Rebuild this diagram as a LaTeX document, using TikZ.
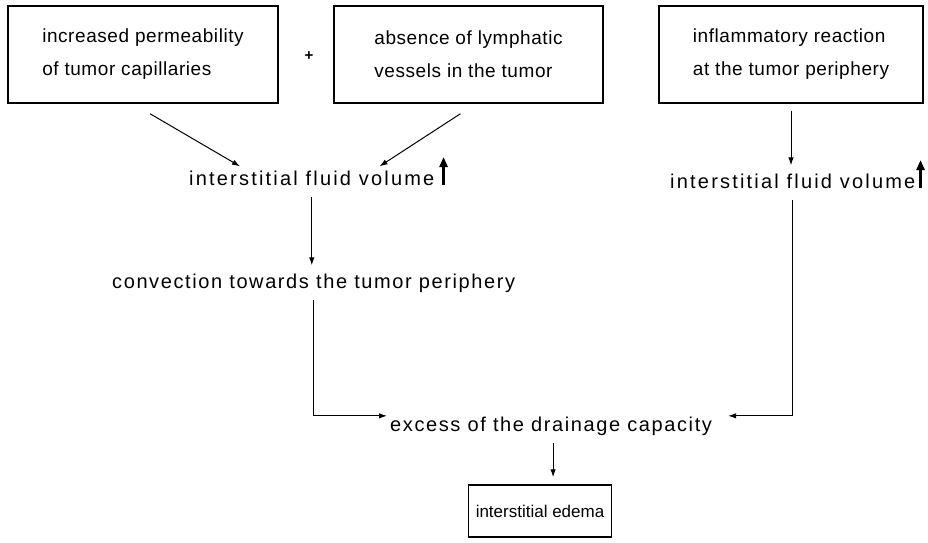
\documentclass[tikz,border=0pt]{standalone}
\usepackage{fontspec}
\setmainfont{Liberation Sans}
\newfontfamily\boxfont{Liberation Sans}[LetterSpace=3]
\newfontfamily\labfont{Liberation Sans}[LetterSpace=8]
\newfontfamily\volfont{Liberation Sans}[LetterSpace=11]
\usetikzlibrary{arrows.meta}
\tikzset{
  box/.style={draw,line width=1.4pt,minimum height=97pt,align=left,font=\boxfont\fontsize{19}{33}\selectfont},
  lab/.style={inner sep=0pt,anchor=base west,font=\labfont\fontsize{20}{24}\selectfont},
  vol/.style={lab,font=\volfont\fontsize{20}{24}\selectfont},
  conn/.style={line width=1pt,-{Latex[length=8pt,width=5.5pt]}},
  uparr/.style={line width=2.6pt,-{Triangle[length=10pt,width=8pt]}}
}
\begin{document}
\begin{tikzpicture}[x=1pt,y=-1pt]
\useasboundingbox (0,0) rectangle (928,542);
\node[box,minimum width=270pt] (perm) at (143,54.5) {increased permeability\\of tumor capillaries};
\node[font=\bfseries\fontsize{15}{16}\selectfont] (plus) at (309,56) {+};
\node[box,minimum width=269pt] (lymph) at (468.5,54.5) {absence of lymphatic\\vessels in the tumor};
\node[box,minimum width=264pt] (infl) at (791,54.5) {inflammatory reaction\\at the tumor periphery};
\node[vol] (vol1) at (189,185) {interstitial fluid volume};
\node[vol] (vol2) at (670,188) {interstitial fluid volume};
\node[lab] (conv) at (112,288) {convection towards the tumor periphery};
\node[lab] (excess) at (390,431) {excess of the drainage capacity};
\node[draw,line width=1.5pt,minimum width=143pt,minimum height=52pt,font=\fontsize{17}{20}\selectfont] (edema) at (540,511) {interstitial edema};
\draw[uparr] ([xshift=9pt]vol1.base east) -- ++(0,-28);
\draw[uparr] ([xshift=5pt]vol2.base east) -- ++(0,-28);
\draw[conn] ([shift={(7,10)}]perm.south) -- ([shift={(51,-4)}]vol1.north west);
\draw[conn] ([shift={(-8,10)}]lymph.south) -- ([shift={(-55,-4)}]vol1.north east);
\draw[conn] ([yshift=-7pt]infl.south) -- ([yshift=8pt]infl.south |- vol2.north);
\draw[conn] ([yshift=-12pt]vol1.south) -- ([yshift=8pt]vol1.south |- conv.north);
\draw[conn] ([yshift=-8pt]conv.south) |- ([xshift=-3pt,yshift=10pt]excess.west);
\draw[conn] ([yshift=-12pt]vol2.south) |- ([xshift=16pt,yshift=10pt]excess.east);
\draw[conn] ([xshift=2pt,yshift=-8pt]excess.south) -- ([xshift=2pt,yshift=7pt]excess.south |- edema.north);
\end{tikzpicture}
\end{document}
